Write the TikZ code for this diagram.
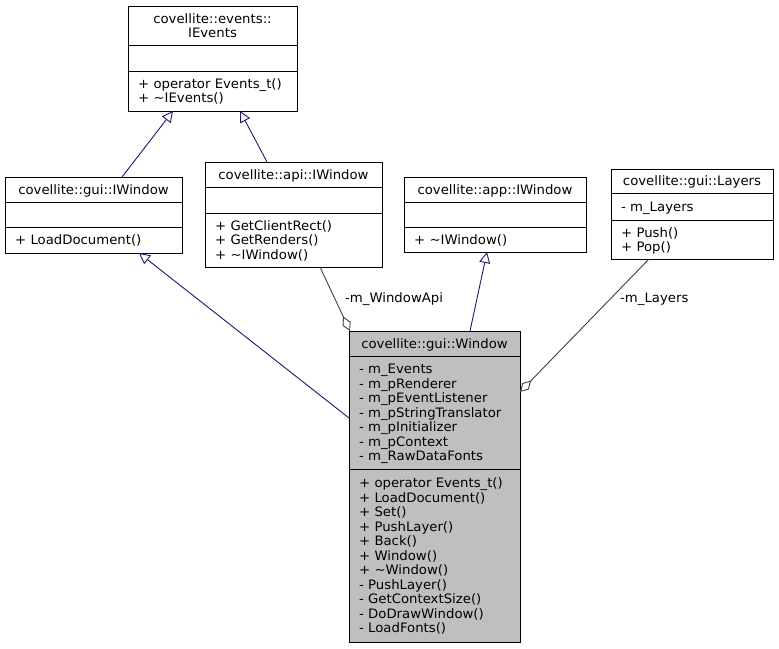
\documentclass[tikz,border=0pt]{standalone}
\usepackage{fontspec}
\setmainfont{DejaVu Sans}[FakeStretch=1.02]
\usetikzlibrary{arrows.meta}
\definecolor{inh}{HTML}{191970}
\definecolor{agg}{HTML}{404040}
\definecolor{wfill}{HTML}{BFBFBF}
\tikzset{
  umlbox/.style={draw=black, line width=1pt, fill=white, rectangle, inner sep=0pt, anchor=north west},
  sepline/.style={draw=black, line width=1pt},
  txt/.style={inner sep=0pt, font=\fontsize{13}{14.5}\selectfont},
  inhline/.style={draw=inh, line width=0.9pt, -{Triangle[open, length=11pt, width=11pt, fill=white]}},
  aggline/.style={draw=agg, line width=0.9pt, {Diamond[open, length=16pt, width=9pt, fill=white]}-},
}
\newcommand{\umllines}[4]{%
  \foreach \t [count=\i] in {#4} {
    \node[txt, anchor=base west] (#1\i) at (#2, {#3 + (\i-1)*14.5}) {\t};
  }%
}
\begin{document}
\begin{tikzpicture}[x=1pt, y=-1pt]
\useasboundingbox (0,0) rectangle (779,648);

% ---------------- IEvents
\node[umlbox, minimum width=169pt, minimum height=105pt] (evt) at (128,6) {};
\draw[sepline] (128,45) -- (297,45);
\draw[sepline] (128,71) -- (297,71);
\node[txt, anchor=base] (evtT1) at (212.5,23) {covellite::events::};
\node[txt, anchor=base] (evtT2) at (212.5,37.5) {IEvents};
\umllines{evtM}{138}{88}{{+ operator Events\_t()},{+ \textasciitilde IEvents()}}

% ---------------- gui::IWindow
\node[umlbox, minimum width=177pt, minimum height=76pt] (gui) at (5,177) {};
\draw[sepline] (5,202) -- (182,202);
\draw[sepline] (5,227) -- (182,227);
\node[txt, anchor=base] (guiT) at (93.5,194) {covellite::gui::IWindow};
\umllines{guiM}{15}{244.5}{{+ LoadDocument()}}

% ---------------- api::IWindow
\node[umlbox, minimum width=177pt, minimum height=105pt] (api) at (205,162) {};
\draw[sepline] (205,187) -- (382,187);
\draw[sepline] (205,213) -- (382,213);
\node[txt, anchor=base] (apiT) at (293.5,179) {covellite::api::IWindow};
\umllines{apiM}{215}{230}{{+ GetClientRect()},{+ GetRenders()},{+ \textasciitilde IWindow()}}

% ---------------- app::IWindow
\node[umlbox, minimum width=182pt, minimum height=75pt] (app) at (404,177) {};
\draw[sepline] (404,202) -- (586,202);
\draw[sepline] (404,227) -- (586,227);
\node[txt, anchor=base] (appT) at (495,194) {covellite::app::IWindow};
\umllines{appM}{414}{244}{{+ \textasciitilde IWindow()}}

% ---------------- gui::Layers
\node[umlbox, minimum width=162pt, minimum height=90pt] (lay) at (611,169) {};
\draw[sepline] (611,193) -- (773,193);
\draw[sepline] (611,220) -- (773,220);
\node[txt, anchor=base] (layT) at (692,185.5) {covellite::gui::Layers};
\umllines{layA}{621}{211}{{- m\_Layers}}
\umllines{layM}{621}{237}{{+ Push()},{+ Pop()}}

% ---------------- gui::Window
\node[umlbox, fill=wfill, minimum width=171pt, minimum height=311pt] (win) at (349,331) {};
\draw[sepline] (349,356) -- (520,356);
\draw[sepline] (349,469) -- (520,469);
\node[txt, anchor=base] (winT) at (434.5,348) {covellite::gui::Window};
\umllines{winA}{359}{373.5}{{- m\_Events},{- m\_pRenderer},{- m\_pEventListener},{- m\_pStringTranslator},{- m\_pInitializer},{- m\_pContext},{- m\_RawDataFonts}}
\umllines{winM}{359}{487.5}{{+ operator Events\_t()},{+ LoadDocument()},{+ Set()},{+ PushLayer()},{+ Back()},{+ Window()},{+ \textasciitilde Window()},{- PushLayer()},{- GetContextSize()},{- DoDrawWindow()},{- LoadFonts()}}

% ---------------- connector end points
\coordinate (evtB1) at (173,111);
\coordinate (evtB2) at (240,111);
\coordinate (guiTop) at (122,177);
\coordinate (guiBot) at (139,253);
\coordinate (apiTop) at (267,162);
\coordinate (apiBot) at (320,267);
\coordinate (appBot) at (487,252);
\coordinate (layBot) at (649,259);
\coordinate (winLeft) at (349,418);
\coordinate (winTop1) at (350,331);
\coordinate (winTop2) at (470,331);
\coordinate (winRight) at (520,392);

% ---------------- connectors
\draw[inhline] (guiTop) -- (evtB1);
\draw[inhline] (apiTop) -- (evtB2);
\draw[inhline] (winLeft) -- (guiBot);
\draw[inhline] (winTop2) -- (appBot);
\draw[aggline] (winTop1) -- (apiBot);
\draw[aggline] (winRight) -- (layBot);

% ---------------- labels
\node[txt, anchor=base west] (lblApi) at (345,302) {-m\_WindowApi};
\node[txt, anchor=base west] (lblLay) at (620,302) {-m\_Layers};
\end{tikzpicture}
\end{document}
